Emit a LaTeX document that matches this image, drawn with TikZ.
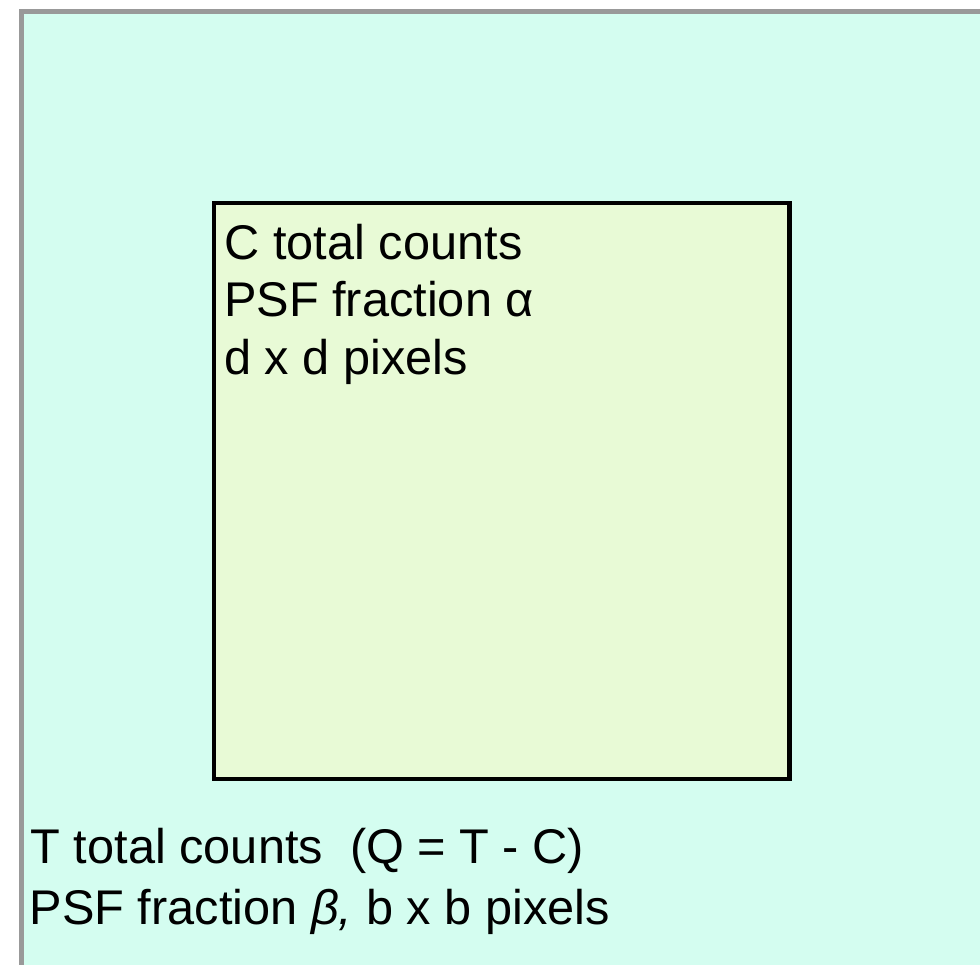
\documentclass[tikz,border=0pt]{standalone}
\usepackage{fontspec}
\setmainfont{Liberation Sans}
\definecolor{outerfill}{HTML}{D4FDF0}
\definecolor{innerfill}{HTML}{E8FAD6}
\definecolor{outerline}{HTML}{999999}
\begin{document}
\begin{tikzpicture}[x=1pt,y=-1pt,
  outerbox/.style={draw=outerline,fill=outerfill,line width=5pt},
  innerbox/.style={draw=black,fill=innerfill,line width=4.5pt},
  lbl/.style={anchor=base west,inner sep=0pt,font=\fontsize{48.7}{58}\selectfont}]
\useasboundingbox (0,0) rectangle (980,964);
\clip (0,0) rectangle (980,964);
\draw[outerbox] (21,11) rectangle (990,975);
\node[coordinate] (o) at (21,11) {};
\draw[innerbox] (214,203) rectangle (789.5,779);
\node[coordinate] (i) at (214,203) {};
\node[lbl] (c1) at (224.5,259) {C total counts};
\node[lbl] (c2) at (224,316.5) {PSF fraction α};
\node[lbl] (c3) at (224,374) {d x d pixels};
\node[lbl] (t1) at (30.5,863) {T total counts\ \ (Q = T - C)};
\node[lbl] (t2) at (29.5,924) {PSF fraction \textit{β,} b x b pixels};
\end{tikzpicture}
\end{document}
